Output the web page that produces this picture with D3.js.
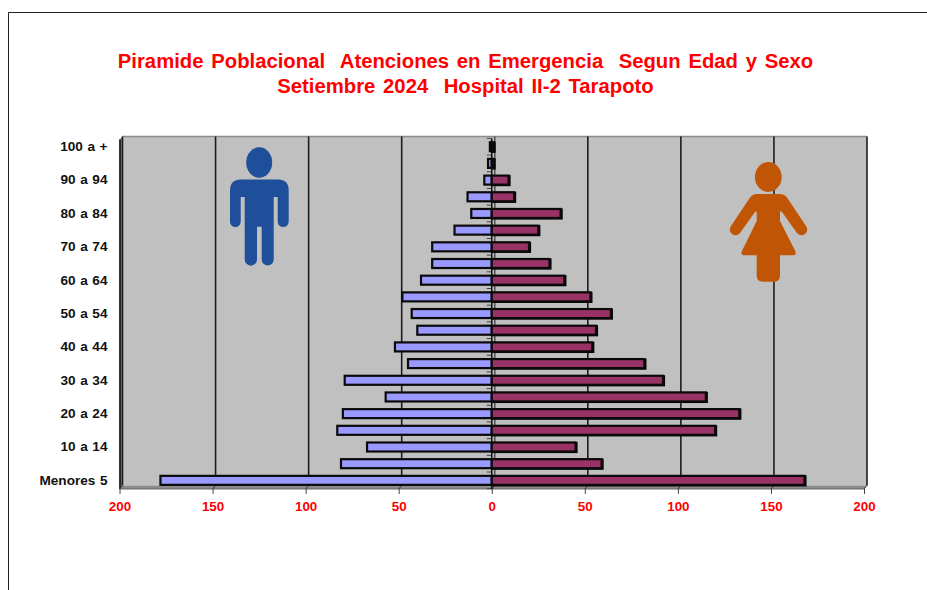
<!DOCTYPE html>
<html><head><meta charset="utf-8">
<script src="https://cdn.jsdelivr.net/npm/d3@7/dist/d3.min.js"></script>
<style>html,body{margin:0;padding:0;background:#fff;overflow:hidden}svg{display:block}text{font-family:"Liberation Sans",Arial,sans-serif;font-weight:bold}</style>
</head><body><svg id="c" width="927" height="590"></svg>
<script>
const categories = ["100 a +","95 a 99","90 a 94","85 a 89","80 a 84","75 a 79","70 a 74","65 a 69","60 a 64","55 a 59","50 a 54","45 a 49","40 a 44","35 a 39","30 a 34","25 a 29","20 a 24","15 a 19","10 a 14","5 a 9","Menores 5"];
const shownLabels = ["100 a +","90 a 94","80 a 84","70 a 74","60 a 64","50 a 54","40 a 44","30 a 34","20 a 24","10 a 14","Menores 5"];
const hombres = [1,2,4,13,11,20,32,32,38,48,43,40,52,45,79,57,80,83,67,81,178];
const mujeres = [1,1,9,12,37,25,20,31,39,53,64,56,54,82,92,115,133,120,45,59,168];
const xTicks = [-200,-150,-100,-50,0,50,100,150,200];
const titleLines = ["Piramide Poblacional  Atenciones en Emergencia  Segun Edad y Sexo","Setiembre 2024  Hospital II-2 Tarapoto"];

const depth = 3, W = 927, H = 590;
const svg = d3.select("#c");
const x = d3.scaleLinear().domain([-200,200]).range([119.5,864]);
const y = d3.scaleBand().domain(categories).range([138.4,488.7]);
const wallTop = 136.5, floorBack = 485.5, floorFront = 489;

// frame
svg.append("path").attr("d",`M8.5,${H}V12.5H${W}`).attr("fill","none").attr("stroke","#222").attr("stroke-width",1);

// title
svg.append("g").selectAll("text").data(titleLines).join("text")
  .attr("x",465.5).attr("y",(d,i)=>68+i*24.5).attr("text-anchor","middle")
  .attr("fill","#ff0000").attr("font-size",20.3).attr("word-spacing",2.1).attr("xml:space","preserve").style("white-space","pre").text(d=>d);

// walls
const x0=x(-200), x1=x(200);
svg.append("rect").attr("x",x0+depth).attr("y",wallTop).attr("width",x1-x0).attr("height",floorBack-wallTop).attr("fill","#c0c0c0");
svg.append("path").attr("d",`M${x0},${floorFront}L${x0+depth},${floorBack}V${wallTop}L${x0},${wallTop+3}Z`).attr("fill","#808080");
svg.append("path").attr("d",`M${x0},${floorFront}L${x0+depth},${floorBack}H${x1+depth}L${x1},${floorFront}Z`).attr("fill","#8a8a8a");
svg.append("line").attr("x1",x0+depth).attr("x2",x1+depth).attr("y1",wallTop).attr("y2",wallTop).attr("stroke","#8c8c8c").attr("stroke-width",1.5);

// gridlines
svg.append("g").selectAll("line").data(xTicks).join("line")
  .attr("x1",d=>x(d)+depth).attr("x2",d=>x(d)+depth).attr("y1",wallTop).attr("y2",floorBack)
  .attr("stroke",d=>d===0?"#555":"#1c1c1c").attr("stroke-width",1.6);
svg.append("line").attr("x1",x0+.5).attr("x2",x0+.5).attr("y1",wallTop+3).attr("y2",floorFront).attr("stroke","#111").attr("stroke-width",1.6);
svg.append("line").attr("x1",x0).attr("x2",x1).attr("y1",floorFront).attr("y2",floorFront).attr("stroke","#666").attr("stroke-width",1.2);
svg.append("g").selectAll("path").data(xTicks).join("path")
  .attr("d",d=>`M${x(d)},${floorFront}L${x(d)+depth},${floorBack}`).attr("fill","none").attr("stroke","#333");

// x axis
const gx = svg.append("g").attr("transform",`translate(0,${floorFront})`)
  .call(d3.axisBottom(x).tickValues(xTicks).tickFormat(d=>Math.abs(d)).tickSize(5).tickPadding(7));
gx.select(".domain").remove();
gx.selectAll("line").attr("stroke","#444");
gx.selectAll("text").attr("fill","#ff0000").attr("font-size",13.4).attr("font-family",null);

// y axis
const gy = svg.append("g").attr("transform","translate(119,0)")
  .call(d3.axisLeft(y).tickSize(0).tickPadding(11.5).tickFormat(d=>shownLabels.includes(d)?d:""));
gy.select(".domain").remove();
gy.selectAll("text").attr("fill","#111").attr("font-size",13.6).attr("word-spacing",.8).attr("font-family",null);

// category ticks at the zero axis
const bounds = categories.map(c=>y(c)).concat([y.range()[1]]);
svg.append("g").selectAll("line").data(bounds).join("line")
  .attr("x1",x(0)-5).attr("x2",x(0)).attr("y1",d=>d).attr("y2",d=>d).attr("stroke","#444");
svg.append("line").attr("x1",x(0)).attr("x2",x(0)).attr("y1",wallTop+2).attr("y2",floorFront).attr("stroke","#111").attr("stroke-width",1.5);

// bars
const bh = 9;
const by = c => y(c)+y.bandwidth()/2-bh/2;
svg.append("g").selectAll("rect").data(categories).join("rect")
  .attr("x",(c,i)=>x(-hombres[i])).attr("y",by)
  .attr("width",(c,i)=>x(0)-x(-hombres[i])).attr("height",bh)
  .attr("fill","#9999ff").attr("stroke","#0a0a0a").attr("stroke-width",2.2);
svg.append("g").selectAll("rect").data(categories).join("rect")
  .attr("x",x(0)+1).attr("y",c=>by(c)+.5)
  .attr("width",(c,i)=>x(mujeres[i])-x(0)).attr("height",bh)
  .attr("fill","#000").attr("stroke","#000").attr("stroke-width",2.2);
svg.append("g").selectAll("rect").data(categories).join("rect")
  .attr("x",x(0)).attr("y",by)
  .attr("width",(c,i)=>x(mujeres[i])-x(0)).attr("height",bh)
  .attr("fill","#993366").attr("stroke","#0a0a0a").attr("stroke-width",2.2);

// man icon
const man = svg.append("g").attr("fill","#1f4e9b");
man.append("ellipse").attr("cx",259.2).attr("cy",162.5).attr("rx",13).attr("ry",15.2);
man.append("path").attr("d","M241,179.5H278Q288.7,179.5 288.7,190.5V221.5A5.5,5.5 0 0 1 277.7,221.5V197H273.7V259.5A6,6 0 0 1 261.7,259.5V226.7H257V259.5A6.1,6.1 0 0 1 244.7,259.5V197H240.7V221.5A5.35,5.5 0 0 1 230,221.5V190.5Q230,179.5 241,179.5Z");

// woman icon
const woman = svg.append("g").attr("fill","#c05505");
woman.append("ellipse").attr("cx",768.3).attr("cy",177).attr("rx",13.4).attr("ry",15);
woman.append("path").attr("d","M757,194H780Q785,194 788,199L806,226A5.5,5.5 0 0 1 797,233L782,212Q780,210 780,213V221L795.5,251.5Q796.5,255.3 793,255.3H780V275.5Q780,281.7 774,281.7H763Q756.7,281.7 756.7,275.5V255.3H744Q740.5,255.3 741.7,251.5L756.7,221V213Q756.7,210 755,212L740,233A5.5,5.5 0 0 1 731,226L749,199Q752,194 757,194Z");
</script></body></html>
